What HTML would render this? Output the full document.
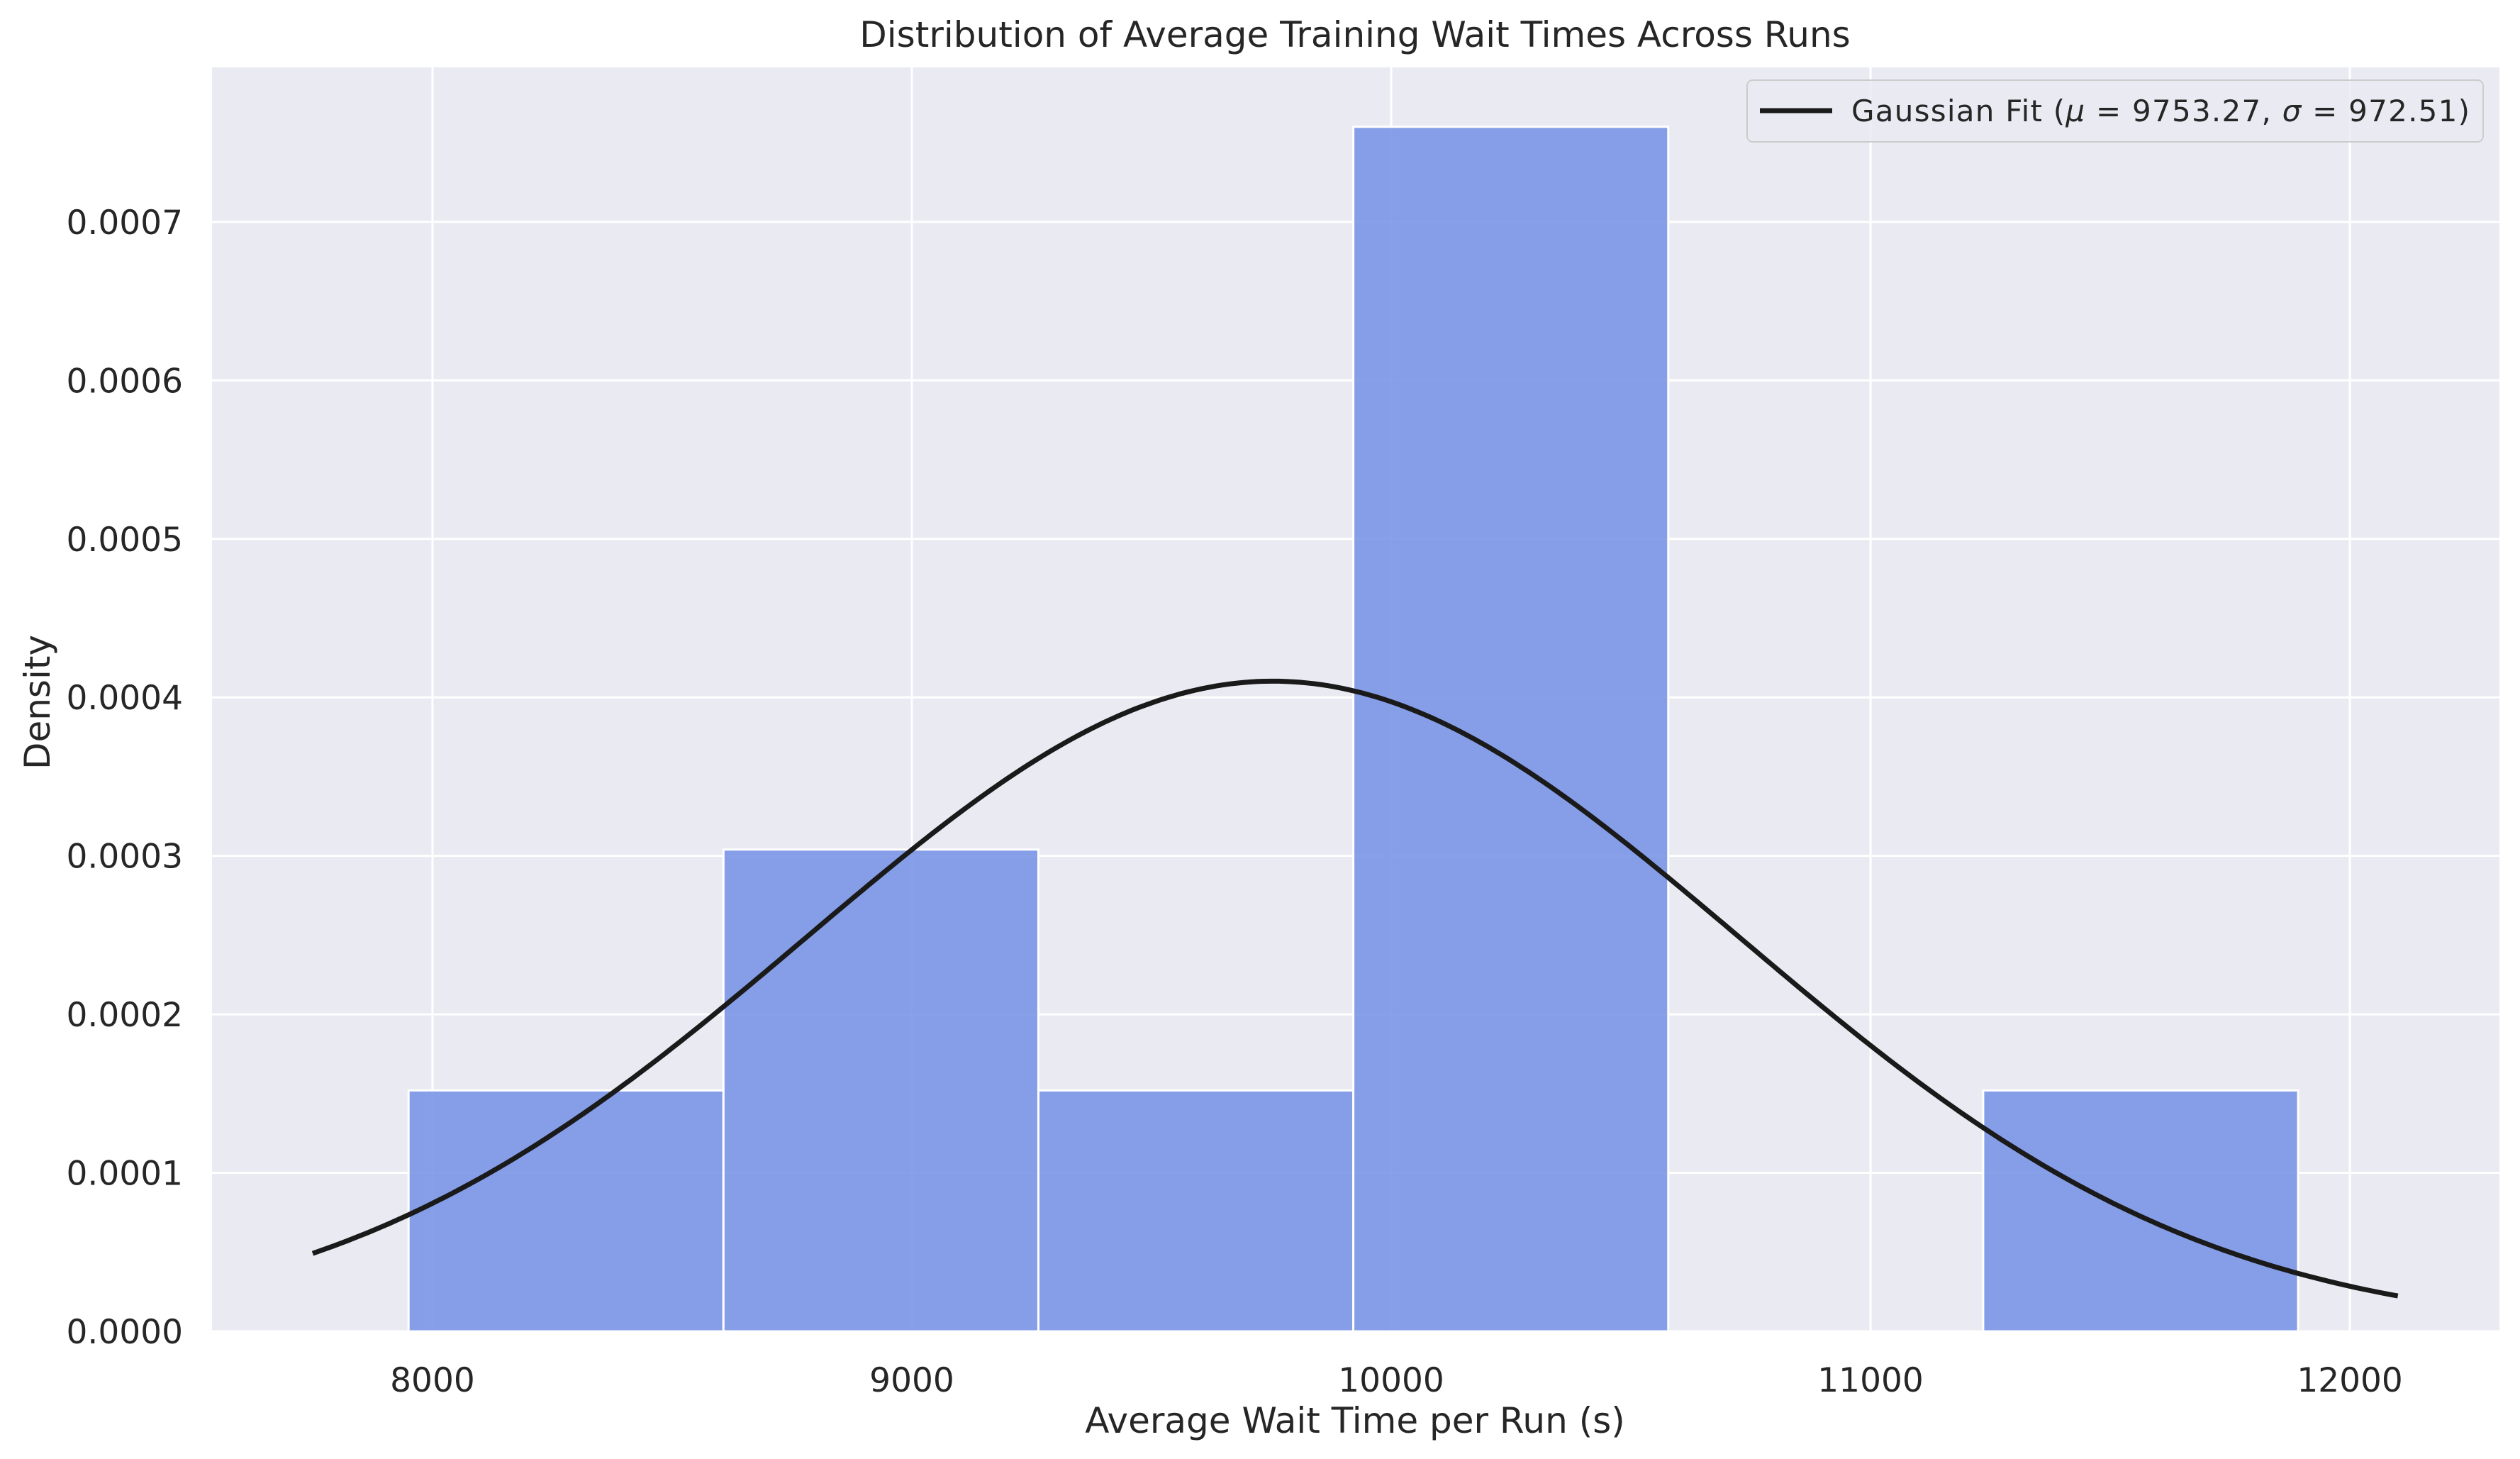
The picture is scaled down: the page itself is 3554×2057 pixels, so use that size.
<!DOCTYPE html>
<html><head><meta charset="utf-8"><style>
html,body{margin:0;padding:0;background:#fff;}
svg{display:block;font-family:"DejaVu Sans","Liberation Sans",sans-serif;}
</style></head><body>
<svg id="chart" width="3554" height="2057" viewBox="0 0 3554 2057">
<rect x="0" y="0" width="3554" height="2057" fill="#fff"/>
<rect x="299" y="95" width="3226" height="1782" fill="#eaeaf2"/>
<g id="grid"></g>
<g id="bars"></g>
<g id="curve"></g>
<g id="ticks"></g>
<text x="1911" y="66" font-size="50" text-anchor="middle" fill="#262626">Distribution of Average Training Wait Times Across Runs</text>
<text x="1911" y="2020" font-size="50" text-anchor="middle" fill="#262626">Average Wait Time per Run (s)</text>
<text x="0" y="0" font-size="50" text-anchor="middle" fill="#262626" transform="translate(70,990) rotate(-90)">Density</text>
<g>
<rect x="2464" y="113" width="1038" height="87" rx="8" fill="#eaeaf2" stroke="#ccc" stroke-width="2" fill-opacity="0.8"/>
<line x1="2482" y1="156" x2="2584" y2="156" stroke="#1a1a1a" stroke-width="7"/>
<text x="2611" y="171" font-size="42" textLength="872" fill="#262626">Gaussian Fit (<tspan font-style="italic">μ</tspan> = 9753.27, <tspan font-style="italic">σ</tspan> = 972.51)</text>
</g>
</svg>
<script>
const binEdges = [7950, 8607, 9264, 9921, 10578, 11235, 11892];
const binDensity = [0.000152, 0.000304, 0.000152, 0.00076, 0, 0.000152];
const xTicks = [8000, 9000, 10000, 11000, 12000];
const yTicks = [0, 0.0001, 0.0002, 0.0003, 0.0004, 0.0005, 0.0006, 0.0007];
const yTickLabels = ["0.0000","0.0001","0.0002","0.0003","0.0004","0.0005","0.0006","0.0007"];
const mu = 9753.27, sigma = 972.51;
const curveRange = [7750, 12100];

const L=299,R=3525,T=95,B=1877;
const xMin=7540,xMax=12312,yMax=0.0007975;
const sx=v=>L+(v-xMin)/(xMax-xMin)*(R-L);
const sy=v=>B-v/yMax*(B-T);
const NS="http://www.w3.org/2000/svg";
function mk(tag,attrs,parent){const e=document.createElementNS(NS,tag);for(const k in attrs)e.setAttribute(k,attrs[k]);parent.appendChild(e);return e;}
const grid=document.getElementById('grid'),bars=document.getElementById('bars'),curve=document.getElementById('curve'),ticks=document.getElementById('ticks');
xTicks.forEach(t=>{
  const l=mk('line',{x1:sx(t),x2:sx(t),y1:T,y2:B,stroke:'#fff','stroke-width':3},grid);
  
  
  const tx=mk('text',{x:sx(t),y:1962,'font-size':47,'text-anchor':'middle',fill:'#262626'},ticks);
  tx.textContent=t;
  
  
});
yTicks.forEach((t,i)=>{
  const l=mk('line',{x1:L,x2:R,y1:sy(t),y2:sy(t),stroke:'#fff','stroke-width':3},grid);
  
  
  const tx=mk('text',{x:258,y:sy(t)+17,'font-size':47,'text-anchor':'end',fill:'#262626'},ticks);
  tx.textContent=yTickLabels[i];
  
  
});
binDensity.forEach((d,i)=>{
  if(d<=0)return;
  const x0=sx(binEdges[i]),x1=sx(binEdges[i+1]);
  const r=mk('rect',{x:x0,y:sy(d),width:x1-x0,height:sy(0)-sy(d),fill:'#7b96e6','fill-opacity':0.9,stroke:'#fff','stroke-width':3},bars);
  
  
});
let pts=[];
for(let i=0;i<=300;i++){
  const x=curveRange[0]+(curveRange[1]-curveRange[0])*i/300;
  const y=Math.exp(-0.5*((x-mu)/sigma)**2)/(sigma*Math.sqrt(2*Math.PI));
  pts.push(sx(x).toFixed(1)+','+sy(y).toFixed(1));
}
const p=mk('polyline',{points:pts.join(' '),fill:'none',stroke:'#1a1a1a','stroke-width':7},curve);


</script>
</body></html>
